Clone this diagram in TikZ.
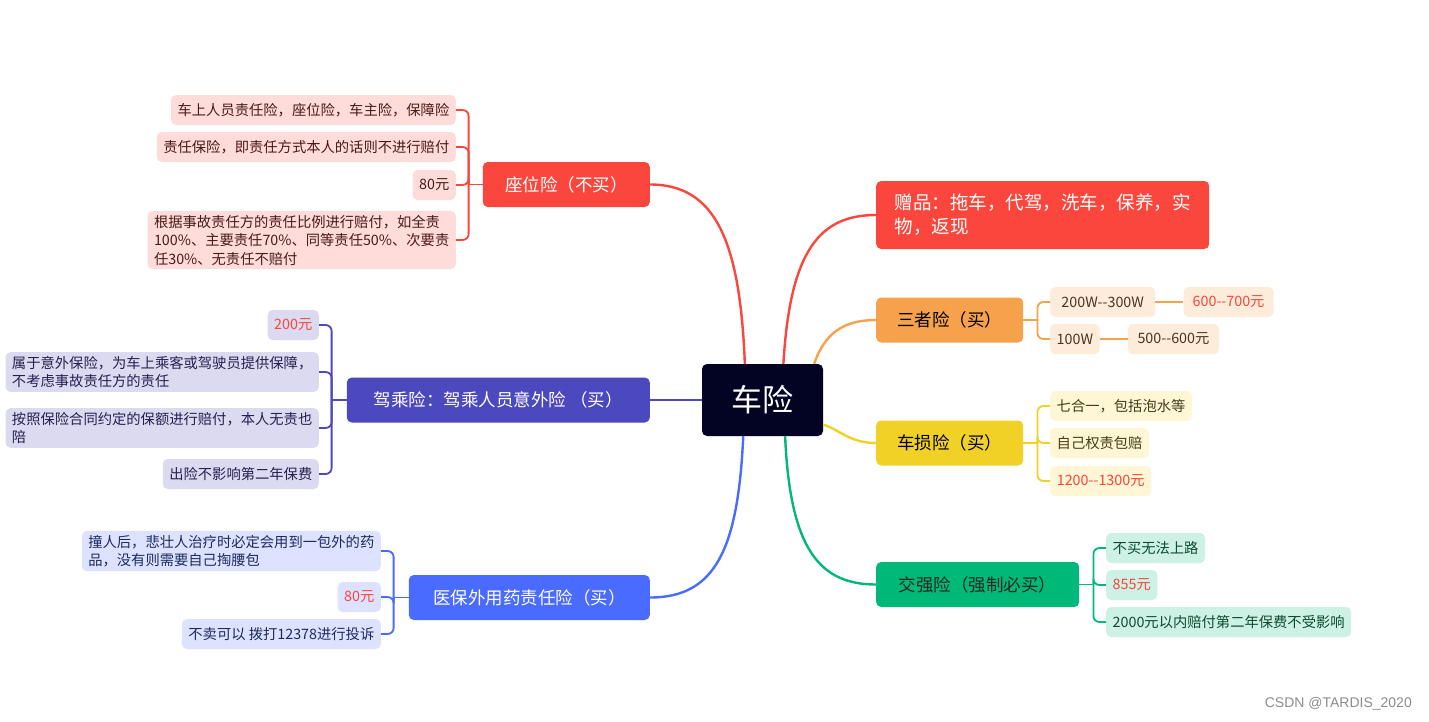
\documentclass[tikz,border=0pt]{standalone}
\usepackage{fontspec}
\setmainfont{Noto Sans CJK SC}
\newfontfamily\wmfont{Liberation Sans}
\usetikzlibrary{calc}
\definecolor{cred}{HTML}{FA463C}
\definecolor{corange}{HTML}{F6A14C}
\definecolor{cyellow}{HTML}{F2D126}
\definecolor{cgreen}{HTML}{00B978}
\definecolor{cind}{HTML}{4C48BE}
\definecolor{cblue}{HTML}{4A6BFF}
\definecolor{ccenter}{HTML}{030323}
\definecolor{subred}{HTML}{FFDBD9}
\definecolor{suborange}{HTML}{FEECDB}
\definecolor{subyellow}{HTML}{FEF6D4}
\definecolor{subgreen}{HTML}{CDF1E4}
\definecolor{subind}{HTML}{DCDAF1}
\definecolor{subblue}{HTML}{DCE2FF}
\definecolor{txtred}{HTML}{4A1A16}
\definecolor{txtorange}{HTML}{4A3420}
\definecolor{txtyellow}{HTML}{463D14}
\definecolor{txtgreen}{HTML}{0E4A33}
\definecolor{txtind}{HTML}{23214E}
\definecolor{txtblue}{HTML}{1E2A5E}
\definecolor{price}{HTML}{F9453B}
\begin{document}
\begin{tikzpicture}[x=1pt,y=-1pt,
  subbox/.style={rounded corners=5pt, inner xsep=6.5pt, inner ysep=4pt, minimum height=30pt, font=\fontsize{14.3}{18.5}\selectfont, align=left},
  mainbox/.style={rounded corners=5pt, minimum height=45pt, font=\fontsize{17.5}{22}\selectfont, inner sep=0pt},
  link/.style={line width=2.4pt},
  sublink/.style={line width=1.8pt, rounded corners=6pt}]
\useasboundingbox (0,0) rectangle (1429,721);
\fill[white] (0,0) rectangle (1429,721);

% center
\node[fill=ccenter, text=white, rounded corners=5pt, minimum width=121pt, minimum height=72pt, inner sep=0pt, font=\fontsize{31}{34}\selectfont] (c) at (762.5,400) {车险};

% left: seat
\node[mainbox, fill=cred, text=white, minimum width=167pt, anchor=east] (zw) at (650,184.5) {座位险（不买）};
\node[subbox, fill=subred, text=txtred, anchor=east] (zw1) at (456,110) {车上人员责任险，座位险，车主险，保障险};
\node[subbox, fill=subred, text=txtred, anchor=east] (zw2) at (456,147) {责任保险，即责任方式本人的话则不进行赔付};
\node[subbox, fill=subred, text=txtred, anchor=east] (zw3) at (456,185) {80元};
\node[subbox, fill=subred, text=txtred, anchor=east] (zw4) at (456,240) {根据事故责任方的责任比例进行赔付，如全责\\100\%、主要责任70\%、同等责任50\%、次要责\\任30\%、无责任不赔付};
\coordinate (zwb) at ($(zw.west)+(-14,0)$);
\draw[sublink, cred] (zw.west) -- (zwb);
\foreach \n in {zw1,zw2,zw3,zw4} \draw[sublink, cred] (zwb) |- (\n.east);

% left: driver/passenger
\node[mainbox, fill=cind, text=white, minimum width=303pt, anchor=east] (jc) at (650,400) {驾乘险：驾乘人员意外险 （买）};
\node[subbox, fill=subind, text=price, anchor=east] (jc1) at (319,325) {200元};
\node[subbox, fill=subind, text=txtind, anchor=east] (jc2) at (319,372) {属于意外保险，为车上乘客或驾驶员提供保障，\\不考虑事故责任方的责任};
\node[subbox, fill=subind, text=txtind, anchor=east] (jc3) at (319,428) {按照保险合同约定的保额进行赔付，本人无责也\\陪};
\node[subbox, fill=subind, text=txtind, anchor=east] (jc4) at (319,474) {出险不影响第二年保费};
\coordinate (jcb) at ($(jc.west)+(-15,0)$);
\draw[sublink, cind] (jc.west) -- (jcb);
\foreach \n in {jc1,jc2,jc3,jc4} \draw[sublink, cind] (jcb) |- (\n.east);

% left: medicine
\node[mainbox, fill=cblue, text=white, minimum width=241pt, anchor=east] (yb) at (650,597.5) {医保外用药责任险（买）};
\node[subbox, fill=subblue, text=txtblue, anchor=east] (yb1) at (381,551) {撞人后，悲壮人治疗时必定会用到一包外的药\\品，没有则需要自己掏腰包};
\node[subbox, fill=subblue, text=price, anchor=east] (yb2) at (381,597) {80元};
\node[subbox, fill=subblue, text=txtblue, anchor=east] (yb3) at (381,634) {不卖可以 拨打12378进行投诉};
\coordinate (ybb) at ($(yb.west)+(-15,0)$);
\draw[sublink, cblue] (yb.west) -- (ybb);
\foreach \n in {yb1,yb2,yb3} \draw[sublink, cblue] (ybb) |- (\n.east);

% right: gifts
\node[mainbox, fill=cred, text=white, minimum width=333pt, minimum height=68pt, anchor=west, align=left, font=\fontsize{18.5}{24}\selectfont] (zp) at (876,215) {赠品：拖车，代驾，洗车，保养，实\\物，返现};

% right: third party
\node[mainbox, fill=corange, text=black, minimum width=147pt, anchor=west] (sz) at (876,320) {三者险（买）};
\node[subbox, fill=suborange, text=txtorange, anchor=west, minimum width=105pt] (sz1) at (1050,302) {200W-{}-300W};
\node[subbox, fill=suborange, text=txtorange, anchor=west, minimum width=47pt] (sz2) at (1050,339) {100W};
\node[subbox, fill=suborange, text=price, anchor=west, minimum width=90pt] (sz1a) at ($(sz1.east)+(28,0)$) {600-{}-700元};
\node[subbox, fill=suborange, text=txtorange, anchor=west, minimum width=91pt] (sz2a) at ($(sz2.east)+(28,0)$) {500-{}-600元};
\coordinate (szb) at ($(sz.east)+(14,0)$);
\draw[sublink, corange] (sz.east) -- (szb);
\foreach \n in {sz1,sz2} \draw[sublink, corange] (szb) |- (\n.west);
\draw[sublink, corange] (sz1.east) -- (sz1a.west);
\draw[sublink, corange] (sz2.east) -- (sz2a.west);

% right: vehicle damage
\node[mainbox, fill=cyellow, text=black, minimum width=147pt, anchor=west] (cs) at (876,443) {车损险（买）};
\node[subbox, fill=subyellow, text=txtyellow, anchor=west] (cs1) at (1050,406) {七合一，包括泡水等};
\node[subbox, fill=subyellow, text=txtyellow, anchor=west] (cs2) at (1050,443) {自己权责包赔};
\node[subbox, fill=subyellow, text=price, anchor=west, minimum width=101pt] (cs3) at (1050,481) {1200-{}-1300元};
\coordinate (csb) at ($(cs.east)+(14,0)$);
\draw[sublink, cyellow] (cs.east) -- (csb);
\foreach \n in {cs1,cs2,cs3} \draw[sublink, cyellow] (csb) |- (\n.west);

% right: compulsory
\node[mainbox, fill=cgreen, text=black!85, minimum width=203pt, anchor=west] (jq) at (876,584.5) {交强险（强制必买）};
\node[subbox, fill=subgreen, text=txtgreen, anchor=west] (jq1) at (1106,548) {不买无法上路};
\node[subbox, fill=subgreen, text=price, anchor=west] (jq2) at (1106,585) {855元};
\node[subbox, fill=subgreen, text=txtgreen, anchor=west] (jq3) at (1106,622) {2000元以内赔付第二年保费不受影响};
\coordinate (jqb) at ($(jq.east)+(14,0)$);
\draw[sublink, cgreen] (jq.east) -- (jqb);
\foreach \n in {jq1,jq2,jq3} \draw[sublink, cgreen] (jqb) |- (\n.west);

% main connectors
\draw[link, cred] (c.116) .. controls (740,240) and (715,184.5) .. (zw.east);
\draw[link, cred] (c.60) .. controls (790,250) and (820,215) .. (zp.west);
\draw[link, corange] (c.35) .. controls (825,332) and (845,320) .. (sz.west);
\draw[link, cyellow] (c.-22) .. controls (840,430) and (850,443) .. (cs.west);
\draw[link, cgreen] (c.-58) .. controls (790,550) and (820,584.5) .. (jq.west);
\draw[link, cind] (c.west) -- (jc.east);
\draw[link, cblue] (c.-118) .. controls (738,550) and (715,597.5) .. (yb.east);

% watermark
\node[font=\wmfont\fontsize{14}{14}\selectfont, text=black!45, anchor=east, inner sep=0pt] (wm) at (1412,704) {CSDN @TARDIS\_2020};
\end{tikzpicture}
\end{document}
